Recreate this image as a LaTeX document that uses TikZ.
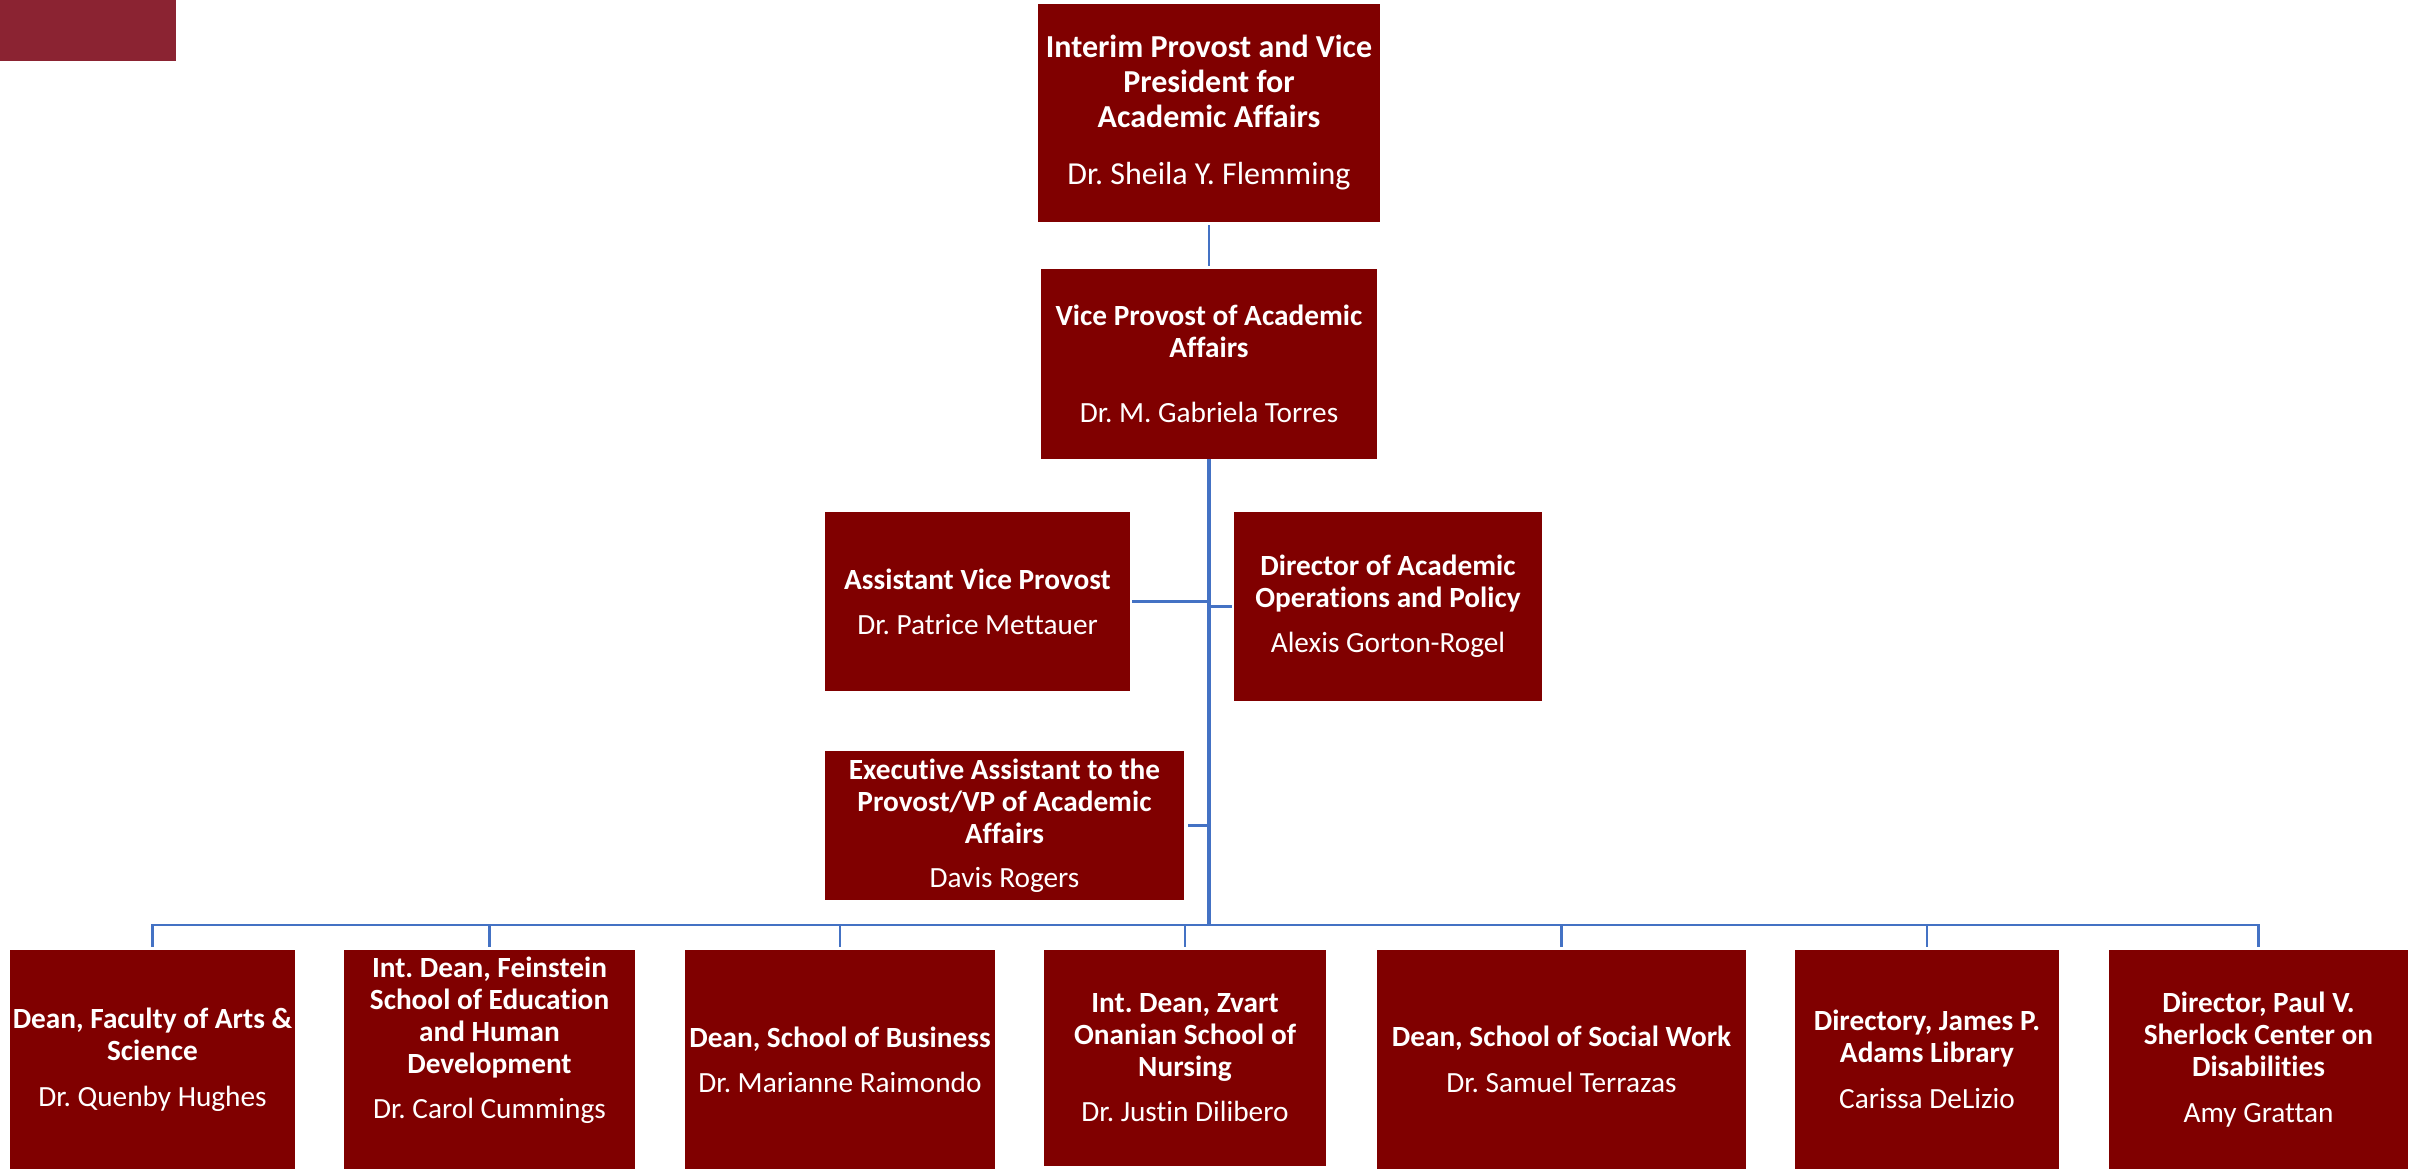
\documentclass[tikz,border=0pt]{standalone}
\usepackage{fontspec}
\setmainfont{Carlito}[Ligatures=NoCommon]
\frenchspacing
\definecolor{boxred}{RGB}{128,0,0}
\definecolor{barred}{RGB}{139,35,50}
\definecolor{linkblue}{RGB}{68,114,196}
\tikzset{
  orgbox/.style={rectangle, fill=boxred, inner sep=0pt, text=white, align=center,
    font=\fontsize{29.3}{32}\selectfont\bfseries},
  bigbox/.style={orgbox, font=\fontsize{32}{35}\selectfont\bfseries},
  boxtext/.style={inner sep=0pt, text=white, align=center,
    font=\fontsize{29.3}{32}\selectfont\bfseries},
  conn/.style={draw=linkblue, line width=2.4pt},
  mainconn/.style={draw=linkblue, line width=3.6pt}
}
\begin{document}
\begin{tikzpicture}[x=1pt, y=-1pt]
\useasboundingbox (0,0) rectangle (2417,1169);
\fill[barred] (0,0) rectangle (176,61);

\node[bigbox, minimum width=342pt, minimum height=218pt] (top) at (1209,113)
  {Interim Provost and Vice\\President for\\Academic Affairs\\[22pt]\mdseries Dr. Sheila Y. Flemming};
\node[orgbox, minimum width=336pt, minimum height=190pt] (vp) at (1209,364)
  {Vice Provost of Academic\\Affairs\\[33pt]\mdseries Dr. M. Gabriela Torres};
\node[orgbox, minimum width=305pt, minimum height=179pt] (avp) at (977.5,601.5)
  {Assistant Vice Provost\\[13pt]\mdseries Dr. Patrice Mettauer};
\node[orgbox, minimum width=308pt, minimum height=189pt] (dir) at (1388,606.5)
  {Director of Academic\\Operations and Policy\\[13pt]\mdseries Alexis Gorton-Rogel};
\node[orgbox, minimum width=359pt, minimum height=149pt] (exec) at (1004.5,825.5)
  {Executive Assistant to the\\Provost/VP of Academic\\Affairs\\[12pt]\mdseries Davis Rogers};

\node[orgbox, minimum width=285pt, minimum height=219pt] (b1) at (152.5,1059.5)
  {Dean, Faculty of Arts \&\\Science\\[14pt]\mdseries Dr. Quenby Hughes};
\node[orgbox, minimum width=291pt, minimum height=219pt] (b2) at (489.5,1059.5) {};
\node[boxtext] (b2t) at (489.5,1040)
  {Int. Dean, Feinstein\\School of Education\\and Human\\Development\\[13pt]\mdseries Dr. Carol Cummings};
\node[orgbox, minimum width=310pt, minimum height=219pt] (b3) at (840,1059.5)
  {Dean, School of Business\\[13pt]\mdseries Dr. Marianne Raimondo};
\node[orgbox, minimum width=282pt, minimum height=216pt] (b4) at (1185,1058)
  {Int. Dean, Zvart\\Onanian School of\\Nursing\\[13pt]\mdseries Dr. Justin Dilibero};
\node[orgbox, minimum width=369pt, minimum height=219pt] (b5) at (1561.5,1059.5)
  {Dean, School of Social Work\\[14pt]\mdseries Dr. Samuel Terrazas};
\node[orgbox, minimum width=264pt, minimum height=219pt] (b6) at (1927,1059.5)
  {Directory, James P.\\Adams Library\\[14pt]\mdseries Carissa DeLizio};
\node[orgbox, minimum width=299pt, minimum height=219pt] (b7) at (2258.5,1059.5)
  {Director, Paul V.\\Sherlock Center on\\Disabilities\\[14pt]\mdseries Amy Grattan};

\coordinate (bus) at (1209,925);
\draw[conn] ([yshift=-3pt]top.south) -- ([yshift=3pt]vp.north);
\draw[mainconn] (vp.south) -- (bus);
\draw[conn] ([xshift=2pt]avp.east) -- (avp.east -| vp.south);
\draw[conn] ([xshift=-2pt]dir.west) -- (dir.west -| vp.south);
\draw[conn] ([xshift=4pt]exec.east) -- (exec.east -| vp.south);
\foreach \b in {b1,b2,b3,b4,b5,b6,b7}{
  \draw[conn] (bus) -| ([yshift=3pt]\b.north);
}
\end{tikzpicture}
\end{document}
